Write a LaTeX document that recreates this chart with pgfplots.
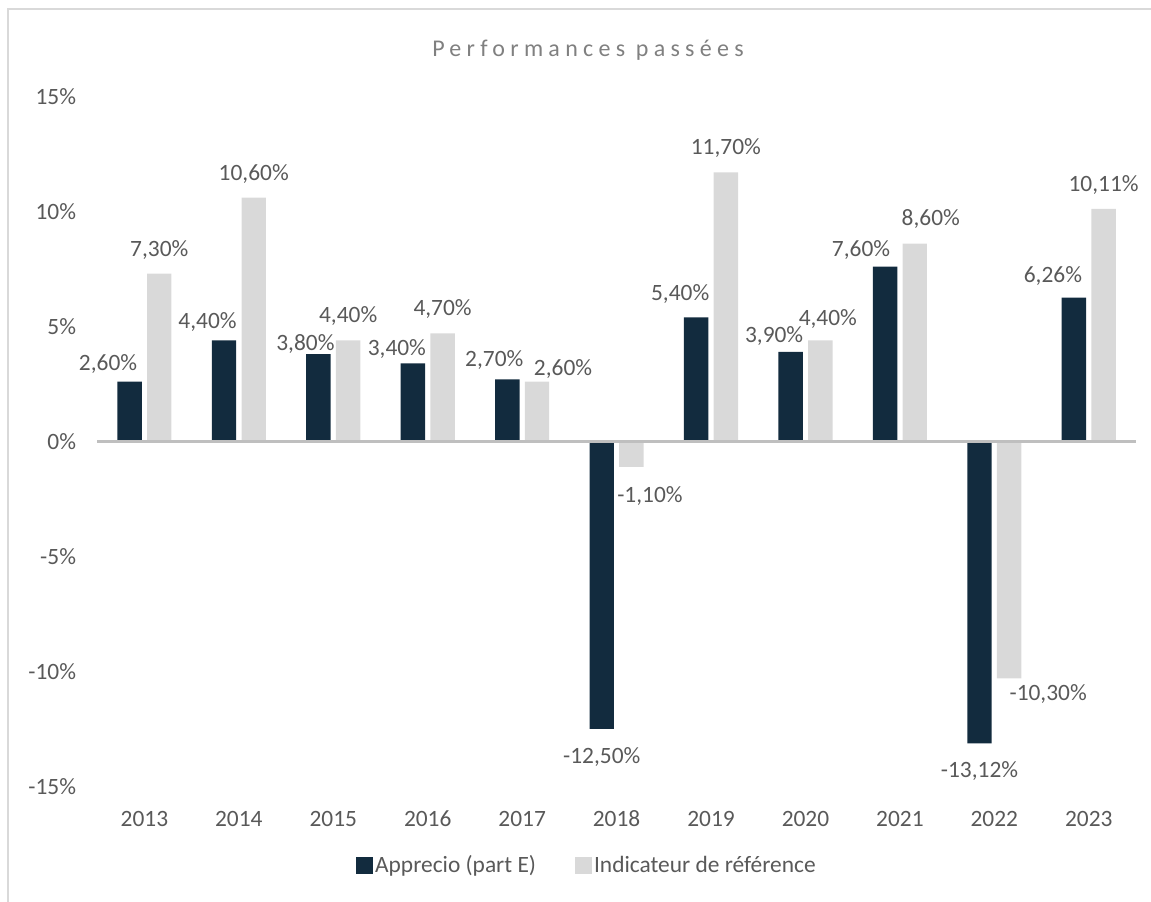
\documentclass[border=0pt]{standalone}
\usepackage{pgfplots}
\pgfplotsset{compat=1.18}
\usepackage{pgfplotstable}
\usepackage{fontspec}
\setmainfont{Carlito}
\newfontfamily\titlefont[LetterSpace=22]{Carlito}
\definecolor{navy}{HTML}{122B3E}
\definecolor{lgray}{HTML}{D9D9D9}
\definecolor{txt}{HTML}{595959}
\definecolor{ttl}{HTML}{808080}
\definecolor{zline}{HTML}{BFBFBF}

\pgfplotstableread{
x y lab dx dy
0 2.60 2,60 -21.5 17.5
1 4.40 4,40 -16.5 18.3
2 3.80 3,80 -13 10
3 3.40 3,40 -16 14
4 2.70 2,70 -13 19.8
5 -12.50 -12,50 0 -28
6 5.40 5,40 -16 23
7 3.90 3,90 -16.5 15.8
8 7.60 7,60 -24 16.3
9 -13.12 -13,12 0 -27.5
10 6.26 6,26 -21 21
}\dataA

\pgfplotstableread{
x y lab dx dy
0 7.30 7,30 0 24
1 10.60 10,60 0 24
2 4.40 4,40 0 24
3 4.70 4,70 0 24
4 2.60 2,60 26 12.5
5 -1.10 -1,10 18.5 -28.8
6 11.70 11,70 0 24
7 4.40 4,40 7.5 20.8
8 8.60 8,60 16 24.7
9 -10.30 -10,30 39 -15.8
10 10.11 10,11 0 24
}\dataB

\pgfplotsset{
  lbl/.style={
    point meta=explicit symbolic,
    nodes near coords={\pgfplotspointmeta\%},
    visualization depends on={\thisrow{dx} \as \labdx},
    visualization depends on={\thisrow{dy} \as \labdy},
    every node near coord/.append style={anchor=center, xshift=\labdx*1pt, yshift=\labdy*1pt, font=\fontsize{23.4}{28}\selectfont, text=txt, inner sep=0pt},
  }
}

\begin{document}
\begin{tikzpicture}
\useasboundingbox (0,0) rectangle (1151pt,902pt);
\draw[lgray, line width=2pt] (8pt,0) -- (8pt,893pt) -- (1151pt,893pt);
\node[text=ttl, font=\titlefont\fontsize{24}{28}\selectfont, inner sep=0pt] at (588pt,852pt) {Performances passées};
\begin{axis}[
  at={(97.2pt,115.5pt)}, anchor=south west,
  scale only axis, width=1038.8pt, height=690pt,
  xmin=-0.5, xmax=10.5, ymin=-15, ymax=15,
  ybar, bar width=24.4pt,
  axis line style={draw=none},
  major tick length=0pt,
  xtick={0,...,10}, xticklabels={2013,2014,2015,2016,2017,2018,2019,2020,2021,2022,2023},
  ytick={-15,-10,...,15}, yticklabels={-15\%,-10\%,-5\%,0\%,5\%,10\%,15\%},
  tick label style={font=\fontsize{23.4}{28}\selectfont, text=txt, inner sep=0pt},
  xticklabel style={anchor=center, yshift=-32pt},
  yticklabel style={anchor=east, xshift=-21pt},
  legend columns=2,
  legend style={at={(0.2491,-0.1138)}, anchor=west, draw=none, fill=none, font=\fontsize{23.4}{28}\selectfont, text=txt, inner sep=0pt, nodes={inner sep=2pt}, /tikz/every even column/.append style={column sep=37pt}},
  legend image code/.code={\fill[#1] (0pt,-8.5pt) rectangle (17pt,8.5pt);},
]
\addlegendimage{fill=navy, draw=none}
\addlegendimage{fill=lgray, draw=none}
\addplot[fill=navy, draw=none, bar shift=-14.85pt, lbl, forget plot] table[x=x, y=y, meta=lab] {\dataA};
\addplot[fill=lgray, draw=none, bar shift=14.85pt, lbl, forget plot] table[x=x, y=y, meta=lab] {\dataB};
\draw[zline, line width=3pt] (axis cs:-0.5,0) -- (axis cs:10.5,0);
\legend{Apprecio (part E), Indicateur de référence}
\end{axis}
\end{tikzpicture}
\end{document}
